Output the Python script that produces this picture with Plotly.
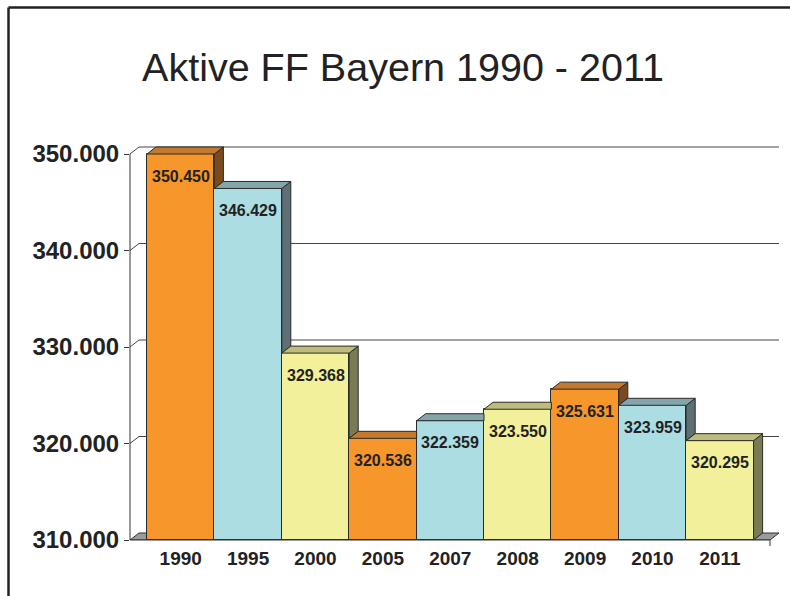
import plotly.graph_objects as go

# --- data -------------------------------------------------------------
YEARS = ["1990", "1995", "2000", "2005", "2007", "2008", "2009", "2010", "2011"]
AKTIVE = [350450, 346429, 329368, 320536, 322359, 323550, 325631, 323959, 320295]
Y_TICKS = [310000, 320000, 330000, 340000, 350000]

# front / top / side colours, repeating orange - blue - yellow
FRONT = ["#F7962B", "#ACDDE3", "#F2F09A"]
TOP = ["#C47A2C", "#84A6AA", "#BDBC7C"]
SIDE = ["#7A4B1D", "#5E7074", "#7A7B55"]

EDGE = "#2a2a2a"
TEXT = "#222222"

# --- geometry (pixels -> data units) ------------------------------------
W, H = 790, 596
L, R, T, B = 130, 779, 140, 540      # plot area in pixels
PITCH = 67.4                         # pixels per category
FIRST_CENTER = 180.7                 # pixel centre of first bar
PX_PER_10K = 96.5
Y_MIN, Y_AXMAX = Y_TICKS[0], Y_TICKS[-1]

X_MIN = (L - FIRST_CENTER) / PITCH
X_MAX = (R - FIRST_CENTER) / PITCH
Y_MAX = Y_MIN + (B - T) / PX_PER_10K * 10000
DX = 9 / PITCH                       # depth offset, x
DY = 7 / PX_PER_10K * 10000          # depth offset, y
X_END = X_MAX - DX                   # front right end of the floor


def de(v):
    return f"{v:,}".replace(",", ".")


idx = list(range(len(YEARS)))
# bars are cut at the value axis maximum, as in the original chart
shown = [min(v, Y_AXMAX) for v in AKTIVE]

fig = go.Figure()

# front faces
fig.add_trace(go.Bar(
    x=idx,
    y=[v - Y_MIN for v in shown],
    base=Y_MIN,
    width=1,
    marker=dict(color=[FRONT[i % 3] for i in idx], line=dict(color=EDGE, width=1)),
    customdata=AKTIVE,
    hovertemplate="%{customdata:,d}<extra></extra>",
    showlegend=False,
))

# side + top faces, clipped where the next bar hides them
for i, v in enumerate(shown):
    xl, xr = i - 0.5, i + 0.5
    nxt = shown[i + 1] if i + 1 < len(shown) else Y_MIN
    if v > nxt:
        lo = max(nxt, Y_MIN)
        fig.add_trace(go.Scatter(
            x=[xr, xr, xr + DX, xr + DX, xr],
            y=[lo, v, v + DY, lo + DY, lo],
            mode="lines", fill="toself", fillcolor=SIDE[i % 3],
            line=dict(color=EDGE, width=1), hoverinfo="skip", showlegend=False,
        ))
        tx = [xl, xr, xr + DX, xl + DX, xl]
        ty = [v, v, v + DY, v + DY, v]
    else:
        tx = [xl, xr, xr, xl + DX, xl]
        ty = [v, v, v + DY, v + DY, v]
    fig.add_trace(go.Scatter(
        x=tx, y=ty, mode="lines", fill="toself", fillcolor=TOP[i % 3],
        line=dict(color=EDGE, width=1), hoverinfo="skip", showlegend=False,
    ))

shapes = []
# back-wall gridlines with their diagonal from the front axis
for t in Y_TICKS[1:]:
    shapes.append(dict(type="line", xref="x", yref="y", x0=X_MIN, y0=t,
                       x1=X_MIN + DX, y1=t + DY, line=dict(color="#444", width=1),
                       layer="below"))
    shapes.append(dict(type="line", xref="x", yref="y", x0=X_MIN + DX, y0=t + DY,
                       x1=X_MAX, y1=t + DY, line=dict(color="#444", width=1),
                       layer="below"))
# floor
shapes.append(dict(
    type="path", xref="x", yref="y",
    path=f"M {X_MIN},{Y_MIN} L {X_END},{Y_MIN} L {X_MAX},{Y_MIN + DY} "
         f"L {X_MIN + DX},{Y_MIN + DY} Z",
    fillcolor="#9B9B9B", line=dict(color="#333", width=1), layer="below"))
# front value axis line
shapes.append(dict(type="line", xref="paper", yref="y", x0=0, x1=0,
                   y0=Y_MIN, y1=Y_AXMAX, line=dict(color="#333", width=1)))
# front floor edge and end tick
shapes.append(dict(type="line", xref="x", yref="paper", x0=X_MIN, x1=X_END,
                   y0=0, y1=0, line=dict(color="#333", width=1.2)))
shapes.append(dict(type="line", xref="x", yref="paper", x0=X_END, x1=X_END,
                   y0=0, y1=-6 / (B - T), line=dict(color="#333", width=1)))
# outer frame (left + top)
fx = (8.5 - L) / (R - L)
fy = (B - 7.5) / (B - T)
shapes.append(dict(type="line", xref="paper", yref="paper", x0=fx, x1=fx,
                   y0=fy, y1=(B - H - 10) / (B - T), line=dict(color=TEXT, width=2.5)))
shapes.append(dict(type="line", xref="paper", yref="paper", x0=fx, x1=(W + 10 - L) / (R - L),
                   y0=fy, y1=fy, line=dict(color=TEXT, width=2.5)))

annotations = [
    dict(x=i, y=s, xref="x", yref="y", text=de(v), showarrow=False, yshift=-22,
         font=dict(family="Arial", size=16, color=TEXT, weight="bold"))
    for i, (v, s) in enumerate(zip(AKTIVE, shown))
]

fig.update_layout(
    width=W, height=H,
    margin=dict(l=L, r=W - R, t=T, b=H - B),
    paper_bgcolor="white", plot_bgcolor="white",
    separators=",.",
    title=dict(text="Aktive FF Bayern 1990 - 2011", x=403 / W, xanchor="center",
               xref="container", yref="container", y=1 - 67 / H, yanchor="middle",
               font=dict(family="Arial", size=39.5, color=TEXT)),
    xaxis=dict(range=[X_MIN, X_MAX], tickvals=idx, ticktext=YEARS, showgrid=False,
               zeroline=False, showline=False, ticks="", ticklabelstandoff=5,
               tickfont=dict(family="Arial", size=19, color=TEXT, weight="bold")),
    yaxis=dict(range=[Y_MIN, Y_MAX], tickvals=Y_TICKS, ticktext=[de(t) for t in Y_TICKS],
               showgrid=False, zeroline=False, showline=False, ticks="outside",
               ticklen=5, tickcolor="#333", tickwidth=1,
               tickfont=dict(family="Arial", size=24, color=TEXT, weight="bold")),
    shapes=shapes,
    annotations=annotations,
    bargap=0,
)

# page body has a default 8px margin; drop it so the figure fills the window
fig.write_html("out.html", config={"displayModeBar": False},
               post_script="document.body.style.margin = '0';")
